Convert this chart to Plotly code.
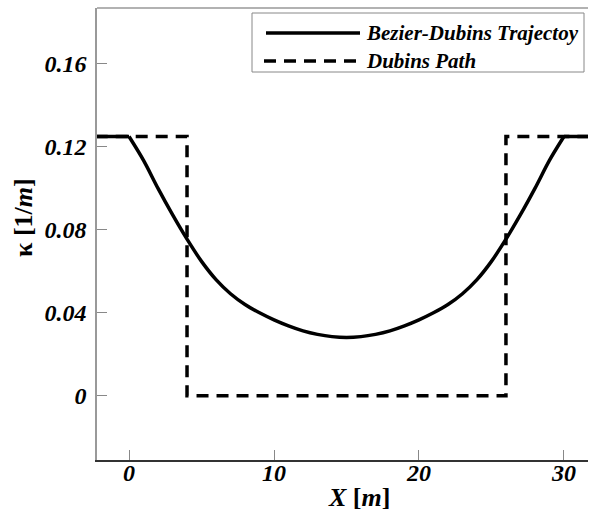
import plotly.graph_objects as go

# Bezier-Dubins trajectory curvature
bez_x = [-2.3, 0, 1, 2, 3, 4, 5, 6, 7, 8, 9, 10, 11, 12, 13, 14, 15,
         16, 17, 18, 19, 20, 21, 22, 23, 24, 25, 26, 27, 28, 29, 30, 34]
bez_y = [0.125, 0.125, 0.1135, 0.1000, 0.0873, 0.0755, 0.0648, 0.0560, 0.0492,
         0.0440, 0.0400, 0.0366, 0.0337, 0.0313, 0.0296, 0.0285, 0.0281,
         0.0285, 0.0296, 0.0313, 0.0337, 0.0366, 0.0400, 0.0440, 0.0492,
         0.0560, 0.0648, 0.0755, 0.0873, 0.1000, 0.1135, 0.125, 0.125]

# Dubins path curvature
dub_x = [-2.3, 4, 4, 26, 26, 34]
dub_y = [0.125, 0.125, 0, 0, 0.125, 0.125]

x_ticks = [0, 10, 20, 30]
y_ticks = [0, 0.04, 0.08, 0.12, 0.16]
y_ticktext = ["0", "0.04", "0.08", "0.12", "0.16"]

legend_names = ["Bezier-Dubins Trajectoy", "Dubins Path"]

FONT = "Liberation Serif, Times New Roman, serif"
W, H = 590, 514
L, R, T, B = 97, 2, 8, 54
PW, PH = W - L - R, H - T - B


def px(xp):
    return (xp - L) / PW


def py(yp):
    return 1 - (yp - T) / PH


solid = dict(color="black", width=3.5)
fig = go.Figure()
fig.add_trace(go.Scatter(x=dub_x, y=dub_y, mode="lines", name=legend_names[1],
                         line=dict(color="black", width=3.5, dash="12px,8px"),
                         showlegend=False))
# flat parts of the trajectory
fig.add_trace(go.Scatter(x=bez_x[:2], y=bez_y[:2], mode="lines", line=solid,
                         showlegend=False))
fig.add_trace(go.Scatter(x=bez_x[-2:], y=bez_y[-2:], mode="lines", line=solid,
                         showlegend=False))
# curved part
fig.add_trace(go.Scatter(x=bez_x[1:-1], y=bez_y[1:-1], mode="lines", name=legend_names[0],
                         line=dict(color="black", width=3.5, shape="spline", smoothing=0.9),
                         showlegend=False))

tickfont = dict(family=FONT, size=24, color="black", weight="bold", style="italic")

fig.update_layout(
    width=W, height=H,
    margin=dict(l=L, r=R, t=T, b=B),
    paper_bgcolor="white", plot_bgcolor="white",
    showlegend=False,
    xaxis=dict(range=[-2.21, 31.66], tickvals=x_ticks, ticks="inside", ticklen=10,
               tickcolor="#888", showgrid=False, zeroline=False, showline=True,
               linecolor="#333", linewidth=2, mirror=False, tickfont=tickfont,
               ticklabelstandoff=-10),
    yaxis=dict(range=[-0.031, 0.187], tickvals=y_ticks, ticktext=y_ticktext,
               ticks="inside", ticklen=10, tickcolor="#888", showgrid=False,
               zeroline=False, showline=True, linecolor="#999", linewidth=1.5,
               mirror=False, tickfont=tickfont, ticklabelstandoff=4),
)

shapes = [
    # top frame line
    dict(type="line", xref="paper", yref="paper", x0=0, x1=1, y0=1, y1=1,
         line=dict(color="#999", width=1.5)),
    # legend box
    dict(type="rect", xref="paper", yref="paper", x0=px(252), x1=px(584),
         y0=py(72), y1=py(13), line=dict(color="#888", width=1), fillcolor="white",
         layer="above"),
    dict(type="line", xref="paper", yref="paper", x0=px(266), x1=px(360),
         y0=py(33), y1=py(33), line=dict(color="black", width=3.5), layer="above"),
    dict(type="line", xref="paper", yref="paper", x0=px(264), x1=px(360),
         y0=py(61), y1=py(61), line=dict(color="black", width=3.5, dash="12px,8px"),
         layer="above"),
]
fig.update_layout(shapes=shapes)

legfont = dict(family=FONT, size=21, color="black", weight="bold", style="italic")
annotations = [
    dict(text=legend_names[0], xref="paper", yref="paper", x=px(364), y=py(33),
         xanchor="left", yanchor="middle", showarrow=False, font=legfont),
    dict(text=legend_names[1], xref="paper", yref="paper", x=px(364), y=py(61),
         xanchor="left", yanchor="middle", showarrow=False, font=legfont),
    dict(text="<b><i>X</i> [<i>m</i>]</b>", xref="paper", yref="paper",
         x=px(359), y=py(497), xanchor="center", yanchor="middle", showarrow=False,
         font=dict(family=FONT, size=26, color="black")),
    dict(text="<b>κ [1/<i>m</i>]</b>", xref="paper", yref="paper",
         x=px(24), y=py(218), xanchor="center", yanchor="middle", showarrow=False,
         textangle=-90, font=dict(family=FONT, size=26, color="black")),
]
fig.update_layout(annotations=annotations)

fig.write_html("out.html")
